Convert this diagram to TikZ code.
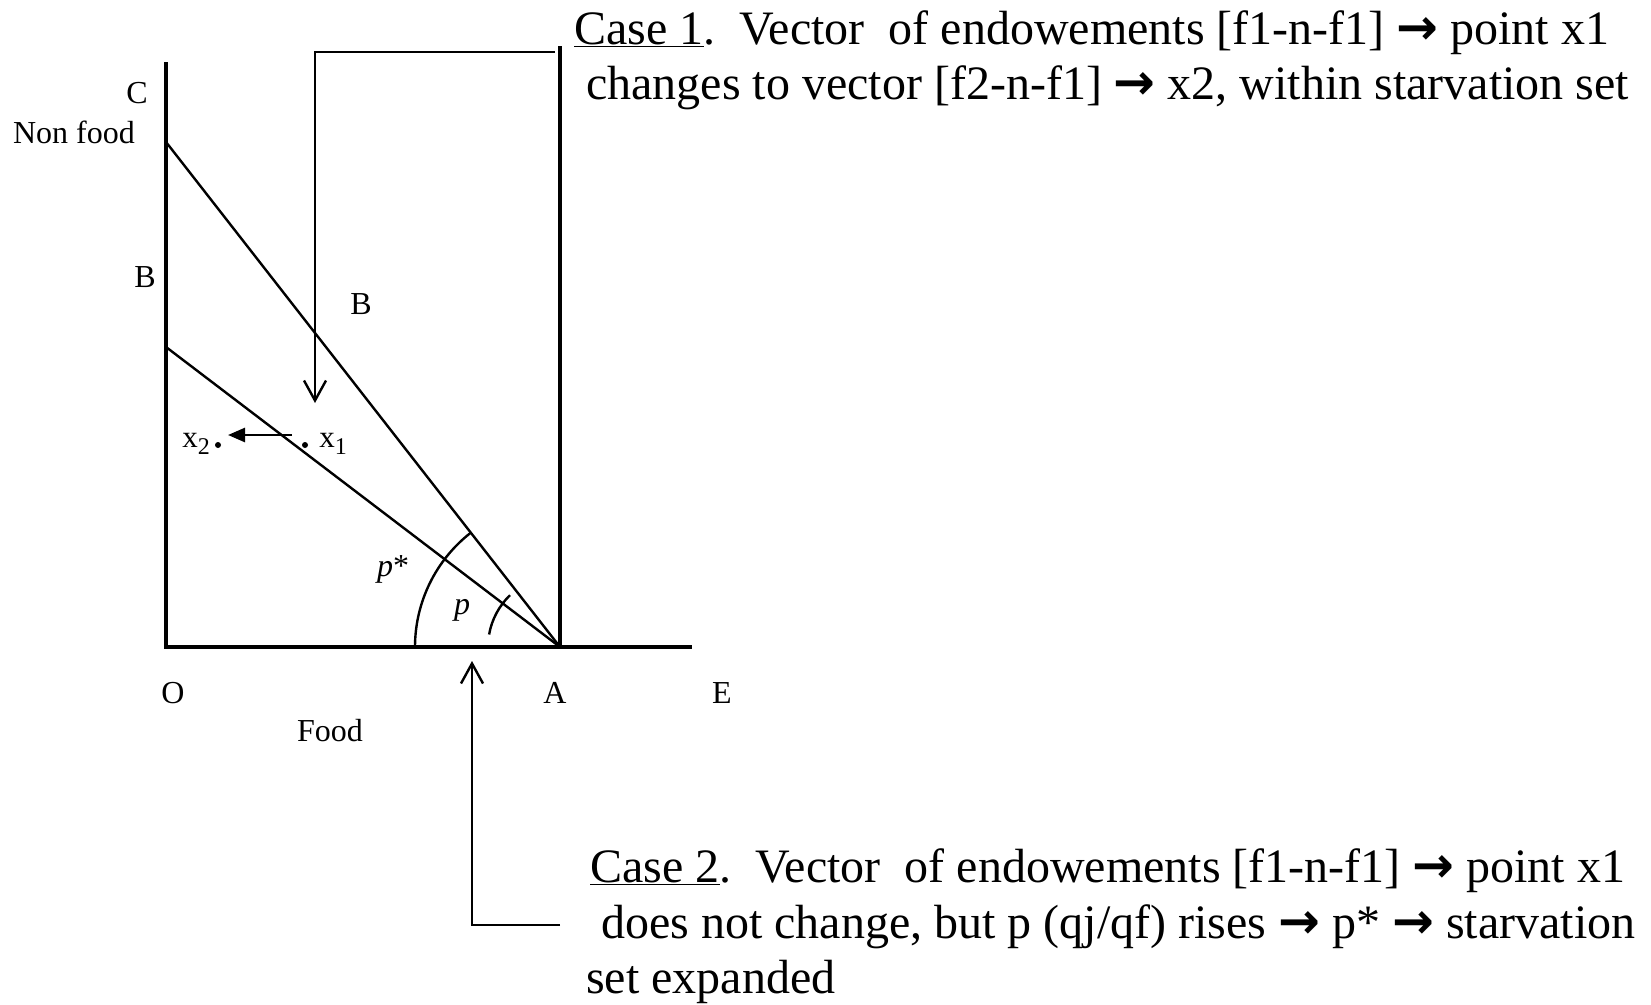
\documentclass[tikz,border=0pt]{standalone}
\usepackage{fontspec}
\setmainfont{Liberation Serif}
\newfontfamily\arrowfont{DejaVu Sans}
\usetikzlibrary{positioning,arrows.meta}
\newcommand{\imparrow}{{\arrowfont\bfseries\fontsize{50}{50}\selectfont →}}
\newcommand{\lowsub}[1]{\raisebox{-7pt}{\fontsize{24}{28}\selectfont #1}}

\begin{document}
\begin{tikzpicture}[
            x=1pt, y=-1pt,
            axis/.style={line width=3.2pt},
            budget/.style={line width=2.4pt},
            pointer/.style={line width=2.4pt, -{Straight Barb[length=20pt,width=22pt,line width=2.4pt]}},
            shiftarrow/.style={line width=2.6pt, -{Triangle[length=17pt,width=14pt]}},
            lbl/.style={font=\fontsize{32}{38}\selectfont, inner sep=0pt},
            sublbl/.style={font=\fontsize{31}{36}\selectfont, inner sep=0pt, anchor=base},
            casetext/.style={font=\fontsize{48}{55}\selectfont, anchor=base west, inner sep=0pt},
            dot/.style={circle, fill, inner sep=0pt, minimum size=6pt}
        ]
            \useasboundingbox (0,0) rectangle (1651,1004);

            % Axes and budget lines
            \coordinate (O) at (166,647);
            \coordinate (A) at (560,647);
            \coordinate (E) at (692,647);
            \coordinate (Ytop) at (166,62);
            \coordinate (Atop) at (560,46);
            \coordinate (C) at (166,142);
            \coordinate (B) at (166,347);
            \draw[axis] (Ytop) -- (O) -- (E);
            \draw[axis] (Atop) -- (A);
            \draw[budget] (C) -- (A);
            \draw[budget] (B) -- (A);

            % Price angles
            \draw[budget] ([shift={(180:145)}]A) arc[start angle=180, end angle=232, radius=145];
            \draw[budget] ([shift={(190:72)}]A) arc[start angle=190, end angle=226, radius=72];
            \node[lbl] (pstar) at (393,569) {\textit{p}*};
            \node[lbl] (p) at (462,610) {\textit{p}};

            % Endowement points
            \node[dot] (x1dot) at (305,445) {};
            \node[dot] (x2dot) at (218,445) {};
            \node[sublbl] (x1) at (333,447) {x\lowsub{1}};
            \node[sublbl] (x2) at (196,447) {x\lowsub{2}};
            \coordinate (shiftstart) at (292,435);
            \coordinate (shiftend) at (228,435);
            \draw[shiftarrow] (shiftstart) -- (shiftend);

            % Axis labels
            \node[lbl] (Clbl) at (137,93) {C};
            \node[lbl] (nonfood) at (74,132) {Non food};
            \node[lbl] (Blbl) at (145,277) {B};
            \node[lbl] (Binner) at (361,304) {B};
            \node[lbl] (Olbl) at (173,693) {O};
            \node[lbl] (Albl) at (555,693) {A};
            \node[lbl] (Elbl) at (722,693) {E};
            \node[lbl] (food) at (330,731) {Food};

            % Case 1
            \coordinate (c1start) at (555,52);
            \coordinate (c1bend) at (315,52);
            \coordinate (c1tip) at (315,403);
            \draw[pointer] (c1start) -- (c1bend) -- (c1tip);
            \node[casetext] (case1a) at (574,44) {\underline{Case 1}.\ \ Vector\ \ of endowements [f1-n-f1] \imparrow{} point x1};
            \node[casetext] (case1b) at (586,99) {changes to vector [f2-n-f1] \imparrow{} x2, within starvation set};

            % Case 2
            \coordinate (c2start) at (560,925);
            \coordinate (c2bend) at (472,925);
            \coordinate (c2tip) at (472,661);
            \draw[pointer] (c2start) -- (c2bend) -- (c2tip);
            \node[casetext] (case2a) at (590,882) {\underline{Case 2}.\ \ Vector\ \ of endowements [f1-n-f1] \imparrow{} point x1};
            \node[casetext] (case2b) at (601,938) {does not change, but p (qj/qf) rises \imparrow{} p* \imparrow{} starvation};
            \node[casetext] (case2c) at (586,993) {set expanded};
        \end{tikzpicture}
\end{document}
